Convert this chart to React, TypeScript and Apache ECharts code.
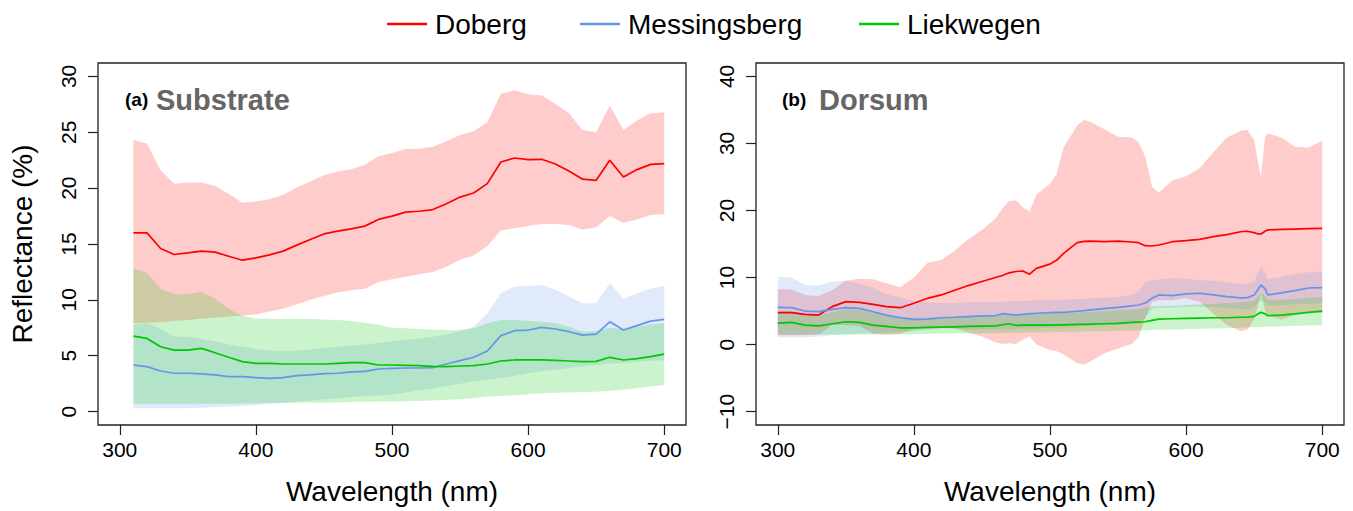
import React, { useEffect, useRef } from "react";
import * as echarts from "echarts";

// ---------- Panel (a) Substrate ----------
const wlA = [310, 320, 330, 340, 350, 360, 370, 380, 390, 400, 410, 420, 430, 440, 450, 460, 470, 480, 490, 500, 510, 520, 530, 540, 550, 560, 570, 580, 590, 600, 610, 620, 630, 640, 650, 660, 670, 680, 690, 700];
const dobergMeanA = [16.0, 16.0, 14.6, 14.06, 14.2, 14.36, 14.27, 13.9, 13.55, 13.76, 14.03, 14.36, 14.9, 15.4, 15.9, 16.15, 16.35, 16.6, 17.2, 17.5, 17.85, 17.93, 18.08, 18.6, 19.2, 19.57, 20.4, 22.34, 22.7, 22.55, 22.58, 22.16, 21.54, 20.8, 20.7, 22.5, 21.0, 21.66, 22.13, 22.2];
const dobergUpA = [24.3, 24.0, 21.6, 20.4, 20.5, 20.5, 20.2, 19.5, 18.7, 18.8, 19.0, 19.4, 20.05, 20.6, 21.15, 21.5, 21.7, 22.1, 22.85, 23.15, 23.5, 23.53, 23.7, 24.2, 24.75, 25.1, 25.9, 28.45, 28.75, 28.4, 28.3, 27.55, 26.7, 25.2, 25.0, 27.4, 25.2, 26.05, 26.7, 26.8];
const dobergLoA = [7.9, 7.95, 8.0, 8.1, 8.2, 8.3, 8.4, 8.5, 8.6, 8.7, 8.95, 9.2, 9.6, 10.0, 10.35, 10.66, 10.85, 11.0, 11.6, 11.85, 12.06, 12.3, 12.5, 12.96, 13.6, 13.97, 14.8, 16.2, 16.4, 16.6, 16.8, 16.8, 16.7, 16.3, 16.5, 17.5, 16.9, 17.2, 17.6, 17.66];
const messMeanA = [4.17, 4.02, 3.63, 3.43, 3.43, 3.37, 3.28, 3.13, 3.13, 3.04, 2.98, 3.04, 3.22, 3.28, 3.4, 3.43, 3.55, 3.6, 3.81, 3.87, 3.9, 3.9, 3.93, 4.26, 4.56, 4.86, 5.42, 6.8, 7.24, 7.3, 7.54, 7.39, 7.15, 6.85, 6.94, 8.04, 7.3, 7.69, 8.1, 8.25];
const messUpA = [7.75, 7.95, 7.4, 6.7, 6.7, 6.5, 6.3, 6.0, 5.8, 5.6, 5.45, 5.4, 5.45, 5.55, 5.7, 5.8, 5.9, 6.0, 6.15, 6.3, 6.4, 6.55, 6.7, 6.9, 7.2, 7.6, 8.8, 10.6, 11.2, 11.25, 11.33, 10.9, 10.3, 9.7, 9.7, 11.5, 10.1, 10.6, 11.0, 11.24];
const messLoA = [0.3, 0.3, 0.3, 0.3, 0.3, 0.35, 0.4, 0.45, 0.5, 0.6, 0.7, 0.8, 0.9, 1.0, 1.1, 1.2, 1.3, 1.4, 1.45, 1.5, 1.7, 1.9, 2.1, 2.3, 2.5, 2.7, 2.85, 3.0, 3.2, 3.43, 3.6, 3.75, 3.9, 4.05, 4.17, 4.3, 4.35, 4.45, 4.55, 4.6];
const liekMeanA = [6.76, 6.55, 5.8, 5.5, 5.5, 5.66, 5.27, 4.86, 4.47, 4.32, 4.32, 4.26, 4.26, 4.26, 4.26, 4.32, 4.38, 4.38, 4.17, 4.17, 4.14, 4.11, 4.05, 4.02, 4.08, 4.11, 4.26, 4.53, 4.62, 4.62, 4.62, 4.59, 4.53, 4.47, 4.5, 4.86, 4.62, 4.74, 4.92, 5.15];
const liekUpA = [12.8, 12.4, 11.0, 10.5, 10.5, 10.7, 10.1, 9.2, 8.6, 8.3, 8.3, 8.3, 8.3, 8.3, 8.25, 8.2, 8.1, 7.95, 7.8, 7.5, 7.45, 7.4, 7.35, 7.3, 7.3, 7.45, 7.9, 8.2, 8.2, 8.1, 8.05, 7.9, 7.6, 7.15, 7.2, 7.5, 7.4, 7.6, 7.8, 7.9];
const liekLoA = [0.7, 0.7, 0.7, 0.7, 0.7, 0.7, 0.7, 0.7, 0.72, 0.74, 0.76, 0.78, 0.8, 0.8, 0.8, 0.82, 0.85, 0.88, 0.9, 0.9, 0.92, 0.95, 1.0, 1.05, 1.1, 1.2, 1.33, 1.4, 1.45, 1.55, 1.64, 1.68, 1.72, 1.75, 1.78, 1.85, 1.95, 2.1, 2.25, 2.38];

// ---------- Panel (b) Dorsum ----------
const wlB = [300, 310, 320, 330, 340, 350, 360, 370, 380, 390, 400, 410, 420, 430, 440, 450, 460, 465, 470, 475, 480, 485, 490, 500, 505, 510, 520, 525, 530, 540, 550, 560, 565, 570, 575, 580, 590, 600, 610, 620, 630, 640, 645, 650, 653, 655, 658, 660, 670, 680, 690, 700];
const dobergMeanB = [4.77, 4.77, 4.5, 4.4, 5.66, 6.4, 6.3, 6.0, 5.66, 5.5, 6.16, 6.9, 7.4, 8.1, 8.8, 9.4, 10.0, 10.3, 10.7, 10.9, 10.97, 10.5, 11.37, 12.0, 12.6, 13.6, 15.2, 15.4, 15.44, 15.34, 15.44, 15.3, 15.2, 14.75, 14.7, 14.85, 15.34, 15.5, 15.7, 16.1, 16.4, 16.83, 16.9, 16.7, 16.5, 16.5, 16.9, 17.1, 17.18, 17.23, 17.28, 17.33];
const dobergUpB = [8.24, 8.2, 7.4, 7.25, 8.14, 9.5, 9.8, 9.73, 9.14, 8.54, 10.0, 12.2, 12.6, 14.0, 15.7, 17.1, 18.8, 20.3, 21.45, 21.5, 20.5, 19.8, 22.4, 24.0, 25.5, 29.4, 32.7, 33.5, 33.2, 32.1, 31.0, 30.9, 30.2, 28.0, 23.5, 22.7, 24.5, 25.1, 26.3, 28.7, 30.9, 31.9, 32.0, 30.5, 27.0, 25.0, 31.0, 31.5, 30.9, 29.5, 29.4, 30.4];
const dobergLoB = [1.4, 1.4, 1.4, 1.5, 2.9, 2.9, 2.8, 1.6, 1.5, 1.6, 2.3, 2.4, 2.5, 2.4, 1.8, 1.2, 0.3, 0.1, 0.2, 0.1, 0.7, 1.2, 0.0, -0.8, -1.0, -1.5, -2.8, -3.0, -2.5, -1.3, -0.6, 0.1, 1.0, 4.0, 6.4, 6.6, 6.6, 6.9, 6.4, 4.6, 2.9, 2.0, 2.2, 3.8, 6.0, 8.0, 5.0, 4.4, 3.7, 4.5, 4.9, 4.7];
const messMeanB = [5.56, 5.5, 5.0, 4.9, 5.26, 5.5, 5.4, 4.9, 4.4, 4.0, 3.77, 3.8, 4.0, 4.07, 4.17, 4.27, 4.3, 4.6, 4.5, 4.4, 4.5, 4.6, 4.67, 4.77, 4.8, 4.8, 4.97, 5.05, 5.16, 5.36, 5.56, 5.76, 5.9, 6.2, 6.9, 7.4, 7.3, 7.55, 7.65, 7.4, 7.15, 6.95, 7.0, 7.4, 8.3, 8.9, 8.3, 7.4, 7.7, 8.04, 8.44, 8.5];
const messUpB = [10.1, 10.0, 8.9, 8.8, 9.4, 9.5, 9.1, 8.5, 7.5, 7.0, 6.5, 6.3, 6.2, 6.2, 6.3, 6.3, 6.4, 6.4, 6.45, 6.5, 6.5, 6.55, 6.6, 6.65, 6.7, 6.7, 6.8, 6.85, 6.9, 7.0, 7.1, 7.4, 7.9, 9.3, 9.6, 9.7, 9.9, 9.8, 9.6, 9.5, 9.3, 9.0, 9.1, 9.4, 10.8, 11.7, 10.8, 9.8, 10.1, 10.5, 10.8, 10.9];
const messLoB = [1.1, 1.1, 1.1, 1.2, 1.4, 1.5, 1.6, 1.7, 1.8, 1.9, 2.0, 2.2, 2.4, 2.4, 2.3, 2.3, 2.3, 2.3, 2.3, 2.35, 2.4, 2.4, 2.45, 2.5, 2.55, 2.6, 2.7, 2.75, 2.8, 2.9, 3.0, 3.1, 3.3, 4.0, 5.3, 5.5, 5.5, 5.6, 5.6, 5.6, 5.5, 5.3, 5.3, 5.6, 6.3, 6.5, 6.3, 5.8, 5.9, 6.0, 6.1, 6.2];
const liekMeanB = [3.2, 3.3, 2.9, 2.8, 3.1, 3.4, 3.3, 2.9, 2.7, 2.5, 2.5, 2.55, 2.6, 2.65, 2.7, 2.75, 2.8, 2.95, 3.1, 2.85, 2.9, 2.9, 2.9, 2.9, 2.95, 2.95, 3.0, 3.0, 3.05, 3.1, 3.15, 3.3, 3.35, 3.4, 3.6, 3.8, 3.85, 3.9, 3.95, 4.0, 4.0, 4.07, 4.1, 4.2, 4.6, 4.8, 4.6, 4.3, 4.4, 4.57, 4.8, 5.0];
const liekUpB = [4.9, 5.0, 4.6, 4.5, 4.8, 5.3, 5.2, 4.8, 4.4, 4.1, 4.0, 4.0, 4.1, 4.2, 4.3, 4.35, 4.4, 4.5, 4.6, 4.5, 4.5, 4.55, 4.6, 4.65, 4.7, 4.7, 4.8, 4.85, 4.9, 5.0, 5.1, 5.2, 5.3, 5.5, 5.7, 5.8, 5.8, 5.9, 6.0, 6.1, 6.2, 6.3, 6.4, 6.5, 7.2, 7.8, 7.2, 6.6, 6.7, 6.8, 7.0, 7.1];
const liekLoB = [1.5, 1.5, 1.5, 1.5, 1.5, 1.5, 1.5, 1.5, 1.5, 1.5, 1.55, 1.6, 1.6, 1.65, 1.65, 1.7, 1.7, 1.7, 1.75, 1.75, 1.75, 1.8, 1.8, 1.85, 1.85, 1.9, 1.9, 1.95, 1.95, 2.0, 2.05, 2.1, 2.1, 2.15, 2.2, 2.2, 2.25, 2.3, 2.35, 2.4, 2.45, 2.5, 2.55, 2.6, 2.6, 2.6, 2.65, 2.65, 2.7, 2.8, 2.85, 2.9];

// ---------- Axes / labels ----------
const xTicks = [300, 400, 500, 600, 700];
const yTicksA = [0, 5, 10, 15, 20, 25, 30];
const yTicksB = [-10, 0, 10, 20, 30, 40];
const siteNames = ["Doberg", "Messingsberg", "Liekwegen"];
const lineColors = ["#ff0000", "#6495ed", "#00c800"];
const bandColors = ["rgba(255,0,0,0.2)", "rgba(100,149,237,0.2)", "rgba(0,200,0,0.2)"];

const FONT = '"Liberation Sans", Arial, Helvetica, sans-serif';

function pairs(xs: number[], ys: number[]) {
  return xs.map((x, i) => [x, ys[i]]);
}

// Band = polygon between lo and hi, positioned through the axes (api.coord)
function bandSeries(id: string, xs: number[], lo: number[], hi: number[], color: string, idx: number) {
  return {
    type: "custom" as const,
    name: id,
    xAxisIndex: idx,
    yAxisIndex: idx,
    silent: true,
    z: 1,
    data: xs.map((x, i) => [x, lo[i], hi[i]]),
    encode: { x: 0, y: [1, 2] },
    renderItem: (params: any, api: any) => {
      if (params.dataIndex !== 0) return null;
      const top = xs.map((x, i) => api.coord([x, hi[i]]));
      const bottom = xs.map((x, i) => api.coord([x, lo[i]])).reverse();
      return {
        type: "polygon",
        shape: { points: top.concat(bottom) },
        style: { fill: color, stroke: "none" },
      };
    },
  };
}

function meanSeries(name: string, xs: number[], ys: number[], color: string, idx: number) {
  return {
    type: "line" as const,
    name,
    xAxisIndex: idx,
    yAxisIndex: idx,
    symbol: "none",
    silent: true,
    z: 5,
    data: pairs(xs, ys),
    lineStyle: { color, width: 1.7 },
    itemStyle: { color },
  };
}

function xAxisCfg(gridIndex: number) {
  return {
    gridIndex,
    type: "value",
    min: 284,
    max: 716,
    axisLine: { show: false, onZero: false },
    axisTick: { show: true, length: 10, customValues: xTicks, lineStyle: { color: "#222", width: 1.2 } },
    axisLabel: { customValues: xTicks, fontSize: 21, color: "#000", margin: 14, fontFamily: FONT },
    splitLine: { show: false },
    name: "Wavelength (nm)",
    nameLocation: "middle",
    nameGap: 52,
    nameTextStyle: { fontSize: 28, color: "#000", fontFamily: FONT },
  };
}

function yAxisCfg(gridIndex: number, min: number, max: number, ticks: number[], name: string) {
  return {
    gridIndex,
    type: "value",
    min,
    max,
    axisLine: { show: false, onZero: false },
    axisTick: { show: true, length: 10, customValues: ticks, lineStyle: { color: "#222", width: 1.2 } },
    axisLabel: {
      customValues: ticks,
      fontSize: 21,
      color: "#000",
      margin: 19,
      rotate: 90,
      fontFamily: FONT,
      formatter: (v: number) => String(v).replace("-", "\u2212"),
    },
    splitLine: { show: false },
    name,
    nameLocation: "middle",
    nameGap: 62,
    nameTextStyle: { fontSize: 28, color: "#000", fontFamily: FONT },
  };
}

function legendCfg(name: string, left: number) {
  return {
    data: [name],
    left,
    top: 5,
    icon: "rect",
    itemWidth: 40,
    itemHeight: 2.5,
    selectedMode: false,
    textStyle: { fontSize: 28, color: "#000", fontFamily: FONT, padding: [0, 0, 0, 3] },
  };
}

export default function App() {
  const ref = useRef<HTMLDivElement>(null);
  useEffect(() => {
    if (!ref.current) return;
    const chart = echarts.init(ref.current, undefined, { renderer: "svg" });
    const series: any[] = [
      bandSeries("dA", wlA, dobergLoA, dobergUpA, bandColors[0], 0),
      bandSeries("mA", wlA, messLoA, messUpA, bandColors[1], 0),
      bandSeries("lA", wlA, liekLoA, liekUpA, bandColors[2], 0),
      bandSeries("dB", wlB, dobergLoB, dobergUpB, bandColors[0], 1),
      bandSeries("mB", wlB, messLoB, messUpB, bandColors[1], 1),
      bandSeries("lB", wlB, liekLoB, liekUpB, bandColors[2], 1),
      meanSeries(siteNames[0], wlA, dobergMeanA, lineColors[0], 0),
      meanSeries(siteNames[1], wlA, messMeanA, lineColors[1], 0),
      meanSeries(siteNames[2], wlA, liekMeanA, lineColors[2], 0),
      meanSeries(siteNames[0], wlB, dobergMeanB, lineColors[0], 1),
      meanSeries(siteNames[1], wlB, messMeanB, lineColors[1], 1),
      meanSeries(siteNames[2], wlB, liekMeanB, lineColors[2], 1),
    ];
    chart.setOption({
      animation: false,
      backgroundColor: "#ffffff",
      textStyle: { fontFamily: FONT },
      legend: [legendCfg(siteNames[0], 382), legendCfg(siteNames[1], 575), legendCfg(siteNames[2], 854)],
      grid: [
        { left: 98, top: 63, width: 588, height: 362, show: true, borderColor: "#222", borderWidth: 1.3, backgroundColor: "transparent" },
        { left: 756, top: 63, width: 588, height: 362, show: true, borderColor: "#222", borderWidth: 1.3, backgroundColor: "transparent" },
      ],
      xAxis: [xAxisCfg(0), xAxisCfg(1)],
      yAxis: [
        yAxisCfg(0, -1.2, 31.2, yTicksA, "Reflectance (%)"),
        yAxisCfg(1, -12, 42, yTicksB, ""),
      ],
      graphic: [
        { type: "text", left: 125, top: 90, style: { text: "(a)", font: `bold 19px ${FONT}`, fill: "#000" } },
        { type: "text", left: 156, top: 85, style: { text: "Substrate", font: `bold 29px ${FONT}`, fill: "#666666" } },
        { type: "text", left: 782, top: 90, style: { text: "(b)", font: `bold 19px ${FONT}`, fill: "#000" } },
        { type: "text", left: 819, top: 85, style: { text: "Dorsum", font: `bold 29px ${FONT}`, fill: "#666666" } },
      ],
      series,
    });
    return () => chart.dispose();
  }, []);
  return <div ref={ref} style={{ position: "fixed", left: 0, top: 0, width: 1353, height: 511 }} />;
}
